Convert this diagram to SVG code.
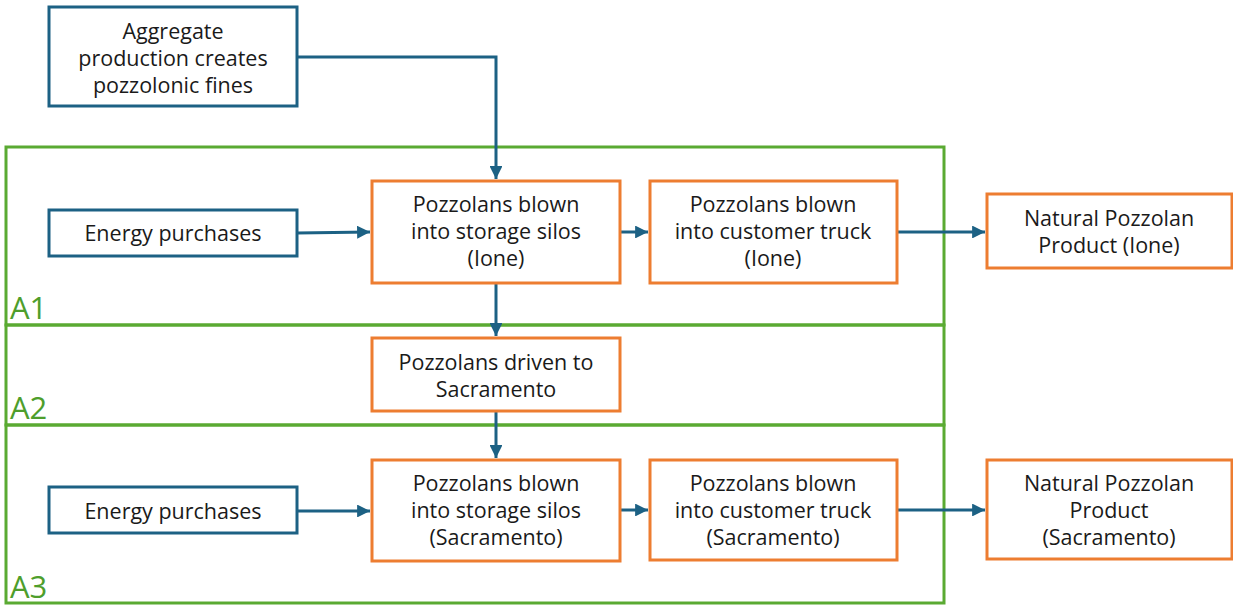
<svg xmlns="http://www.w3.org/2000/svg" width="1233" height="606" viewBox="0 0 1233 606">
<style>
  .bg{fill:#ffffff}
  .zone{fill:none;stroke:#5AAA32;stroke-width:3}
  .zlabel{font-family:"Open Sans","Noto Sans",sans-serif;font-size:31px;fill:#4E9E2C}
  .blue{fill:#ffffff;stroke:#1C6184;stroke-width:3}
  .orange{fill:#ffffff;stroke:#ED7D31;stroke-width:3}
  .t{font-family:"Open Sans","Noto Sans",sans-serif;font-size:21.5px;fill:#1a1a1a;text-anchor:middle}
  .c{fill:none;stroke:#1C6184;stroke-width:3}
</style>
<defs>
  <marker id="ah" viewBox="0 0 10 10" refX="10" refY="5" markerWidth="4.3" markerHeight="4.3" orient="auto" markerUnits="strokeWidth">
    <path d="M0,0 L10,5 L0,10 z" fill="#1C6184"/>
  </marker>
</defs>
<rect class="bg" x="0" y="0" width="1233" height="606"/>
<g id="zones">
  <rect class="zone" x="6" y="147" width="938" height="178"/>
  <rect class="zone" x="6" y="325" width="938" height="100"/>
  <rect class="zone" x="6" y="425" width="938" height="178"/>
  <text class="zlabel" x="10" y="319">A1</text>
  <text class="zlabel" x="10" y="419">A2</text>
  <text class="zlabel" x="10" y="598">A3</text>
</g>
<g id="connectors">
  <path class="c" d="M297,57 H496 V179" marker-end="url(#ah)"/>
  <path class="c" d="M297,233 L370,232" marker-end="url(#ah)"/>
  <path class="c" d="M620,232 H648" marker-end="url(#ah)"/>
  <path class="c" d="M897,232 H985" marker-end="url(#ah)"/>
  <path class="c" d="M496,283 V336" marker-end="url(#ah)"/>
  <path class="c" d="M496,411 V458" marker-end="url(#ah)"/>
  <path class="c" d="M297,511 H370" marker-end="url(#ah)"/>
  <path class="c" d="M620,510 H648" marker-end="url(#ah)"/>
  <path class="c" d="M897,510 H985" marker-end="url(#ah)"/>
</g>
<g id="aggregate">
  <rect class="blue" x="49" y="7" width="248" height="99"/>
  <text class="t" x="173" y="39">Aggregate</text>
  <text class="t" x="173" y="66">production creates</text>
  <text class="t" x="173" y="93">pozzolonic fines</text>
</g>
<g id="energy1">
  <rect class="blue" x="49" y="210" width="248" height="46"/>
  <text class="t" x="173" y="241">Energy purchases</text>
</g>
<g id="silos1">
  <rect class="orange" x="372" y="181" width="248" height="102"/>
  <text class="t" x="496" y="212">Pozzolans blown</text>
  <text class="t" x="496" y="239">into storage silos</text>
  <text class="t" x="496" y="266">(Ione)</text>
</g>
<g id="truck1">
  <rect class="orange" x="650" y="181" width="247" height="102"/>
  <text class="t" x="773" y="212">Pozzolans blown</text>
  <text class="t" x="773" y="239">into customer truck</text>
  <text class="t" x="773" y="266">(Ione)</text>
</g>
<g id="product1">
  <rect class="orange" x="987" y="194" width="245" height="74"/>
  <text class="t" x="1109" y="226">Natural Pozzolan</text>
  <text class="t" x="1109" y="253">Product (Ione)</text>
</g>
<g id="driven">
  <rect class="orange" x="372" y="338" width="248" height="73"/>
  <text class="t" x="496" y="370">Pozzolans driven to</text>
  <text class="t" x="496" y="397">Sacramento</text>
</g>
<g id="energy2">
  <rect class="blue" x="49" y="487" width="248" height="46"/>
  <text class="t" x="173" y="519">Energy purchases</text>
</g>
<g id="silos2">
  <rect class="orange" x="372" y="460" width="248" height="101"/>
  <text class="t" x="496" y="491">Pozzolans blown</text>
  <text class="t" x="496" y="518">into storage silos</text>
  <text class="t" x="496" y="545">(Sacramento)</text>
</g>
<g id="truck2">
  <rect class="orange" x="650" y="460" width="247" height="100"/>
  <text class="t" x="773" y="491">Pozzolans blown</text>
  <text class="t" x="773" y="518">into customer truck</text>
  <text class="t" x="773" y="545">(Sacramento)</text>
</g>
<g id="product2">
  <rect class="orange" x="987" y="460" width="245" height="99"/>
  <text class="t" x="1109" y="491">Natural Pozzolan</text>
  <text class="t" x="1109" y="518">Product</text>
  <text class="t" x="1109" y="545">(Sacramento)</text>
</g>
</svg>
